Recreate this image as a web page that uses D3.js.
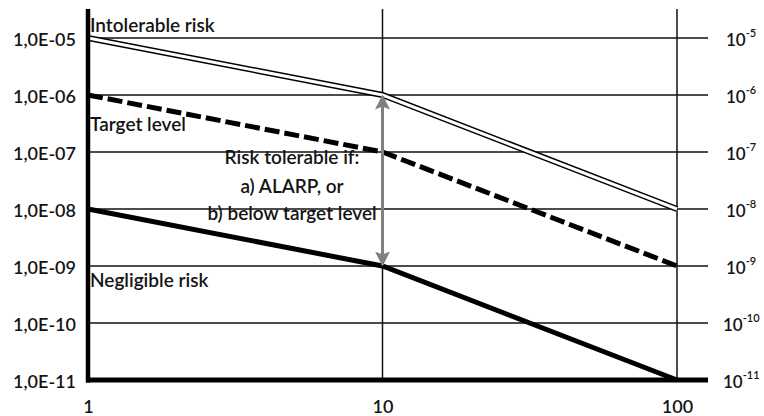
<!DOCTYPE html>
<html>
<head>
<meta charset="utf-8">
<script src="https://cdn.jsdelivr.net/npm/d3@7/dist/d3.min.js"></script>
<style>
  html, body { margin: 0; padding: 0; background: #fff; }
  svg { display: block; }
  text { font-family: Lato, "Open Sans", sans-serif; font-weight: 600; fill: #141414; }
</style>
</head>
<body>
<svg id="chart" width="764" height="416"></svg>
<script>
// Frequency axis (log scale) and risk levels per frequency
const frequency = [1, 10, 100];
const intolerableRisk = [1e-5, 1e-6, 1e-8];
const targetLevel = [1e-6, 1e-7, 1e-9];
const negligibleRisk = [1e-8, 1e-9, 1e-11];

const xTickValues = [1, 10, 100];
const yTickValues = [1e-5, 1e-6, 1e-7, 1e-8, 1e-9, 1e-10, 1e-11];

// Tolerable band marked at this frequency, between these two levels
const bandFrequency = 10;
const bandTop = 1e-6;
const bandBottom = 1e-9;

const curveLabels = ["Intolerable risk", "Target level", "Negligible risk"];
const noteLines = ["Risk tolerable if:", "a) ALARP, or", "b) below target level"];

const svg = d3.select("#chart");
const x = d3.scaleLog().domain([1, 100]).range([88, 677]);
const y = d3.scaleLog().domain([1e-11, 1e-5]).range([380, 38]);
const gridRight = 708;
const plotTop = 9;
const fontSize = 19;

const exp = v => Math.round(Math.log10(v));

// Horizontal grid lines
svg.append("g").selectAll("line").data(yTickValues).join("line")
  .attr("x1", x(1)).attr("x2", gridRight)
  .attr("y1", d => y(d)).attr("y2", d => y(d))
  .attr("stroke", "#111").attr("stroke-width", 1.5);

// Vertical grid lines
svg.append("g").selectAll("line").data(xTickValues.slice(1)).join("line")
  .attr("x1", d => x(d)).attr("x2", d => x(d))
  .attr("y1", plotTop).attr("y2", y(1e-11))
  .attr("stroke", "#111").attr("stroke-width", 1.5);

// Left axis labels: 1,0E-05 style
const leftAxis = d3.axisLeft(y).tickValues(yTickValues).tickSize(0).tickPadding(0)
  .tickFormat(d => "1,0E-" + String(-exp(d)).padStart(2, "0"));
const gl = svg.append("g").attr("transform", "translate(76,0)").call(leftAxis);
gl.select(".domain").remove();
gl.selectAll("text").attr("font-family", "Lato, sans-serif").attr("font-size", 18)
  .attr("font-weight", 600).attr("fill", "#141414").attr("dy", "0.42em");

// Right axis labels: 10 with exponent
const rightAxis = d3.axisRight(y).tickValues(yTickValues).tickSize(0).tickPadding(0)
  .tickFormat(() => "");
const gr = svg.append("g").attr("transform", "translate(726,0)").call(rightAxis);
gr.select(".domain").remove();
gr.selectAll(".tick text").each(function(d) {
  const e = String(exp(d));
  const t = d3.select(this).attr("dy", "0.42em").attr("font-family", "Lato, sans-serif")
    .attr("font-size", 17).attr("font-weight", 600).attr("fill", "#141414")
    .attr("dx", e.length > 2 ? -3 : 0);
  t.append("tspan").text("10");
  t.append("tspan").attr("font-size", 11).attr("dy", "-0.8em").text(e);
});

// Bottom axis labels
const bottomAxis = d3.axisBottom(x).tickValues(xTickValues).tickSize(0).tickPadding(0)
  .tickFormat(d3.format("d"));
const gb = svg.append("g").attr("transform", "translate(0,413)").call(bottomAxis);
gb.select(".domain").remove();
gb.selectAll("text").attr("font-family", "Lato, sans-serif").attr("font-size", 18)
  .attr("font-weight", 600).attr("fill", "#141414").attr("dy", "0");

const line = d3.line().x(d => x(d[0])).y(d => y(d[1]));
const pts = vals => frequency.map((f, i) => [f, vals[i]]);

// Negligible risk: thick solid line
svg.append("path").attr("d", line(pts(negligibleRisk)))
  .attr("fill", "none").attr("stroke", "#000").attr("stroke-width", 5);

// Target level: thick dashed line
svg.append("path").attr("d", line(pts(targetLevel)))
  .attr("fill", "none").attr("stroke", "#000").attr("stroke-width", 5)
  .attr("stroke-dasharray", "15,5");

// Intolerable risk: double line
svg.append("path").attr("d", line(pts(intolerableRisk)))
  .attr("fill", "none").attr("stroke", "#000").attr("stroke-width", 6);
svg.append("path").attr("d", line(pts(intolerableRisk)))
  .attr("fill", "none").attr("stroke", "#fff").attr("stroke-width", 3);

// Axis lines
svg.append("line").attr("x1", x(1)).attr("x2", x(1))
  .attr("y1", plotTop).attr("y2", y(1e-11) + 2.5)
  .attr("stroke", "#000").attr("stroke-width", 4.5);
svg.append("line").attr("x1", x(1) - 2).attr("x2", gridRight)
  .attr("y1", y(1e-11)).attr("y2", y(1e-11))
  .attr("stroke", "#000").attr("stroke-width", 5);

// Double-headed arrow for the tolerable band
const defs = svg.append("defs");
["start", "end"].forEach(k => {
  defs.append("marker").attr("id", "arrow-" + k)
    .attr("viewBox", "0 0 10 10").attr("refX", 9).attr("refY", 5)
    .attr("markerWidth", 5).attr("markerHeight", 5)
    .attr("orient", k === "start" ? "auto-start-reverse" : "auto")
    .append("path").attr("d", "M0,0 L10,5 L0,10 L2,5 Z").attr("fill", "#808080");
});
svg.append("line")
  .attr("x1", x(bandFrequency)).attr("x2", x(bandFrequency))
  .attr("y1", y(bandTop) + 1).attr("y2", y(bandBottom) - 1)
  .attr("stroke", "#808080").attr("stroke-width", 3)
  .attr("marker-start", "url(#arrow-start)").attr("marker-end", "url(#arrow-end)");

// Curve labels
const labelY = [32, 131, 287];
svg.append("g").selectAll("text").data(curveLabels).join("text")
  .attr("x", 90).attr("y", (d, i) => labelY[i])
  .attr("font-size", fontSize).text(d => d);

// Note in the middle of the chart
svg.append("g").selectAll("text").data(noteLines).join("text")
  .attr("x", 292).attr("y", (d, i) => [164, 193, 220][i])
  .attr("text-anchor", "middle").attr("font-size", fontSize).text(d => d);
</script>
</body>
</html>
